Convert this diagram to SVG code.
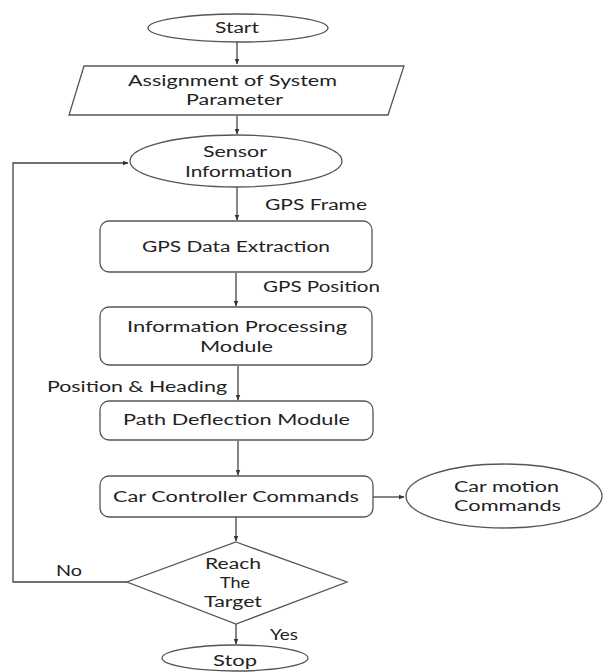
<svg xmlns="http://www.w3.org/2000/svg" width="603" height="672" viewBox="0 0 603 672">
<defs>
<marker id="ah" viewBox="0 0 10 10" refX="9" refY="5" markerWidth="6" markerHeight="6" orient="auto" markerUnits="userSpaceOnUse">
<path d="M0,1 L10,5 L0,9 z" fill="#333"/>
</marker>
</defs>
<style>
.shape{fill:#fff;stroke:#555;stroke-width:1.3}
.c{fill:none;stroke:#444;stroke-width:1.3}
text{font-family:Lato,"Liberation Sans",sans-serif;font-size:15.5px;fill:#222}
.m{text-anchor:middle}
</style>
<rect width="603" height="672" fill="#fff"/>
<g id="connectors">
<line class="c" x1="237" y1="42" x2="237" y2="64" marker-end="url(#ah)"/>
<line class="c" x1="237" y1="116" x2="237" y2="134" marker-end="url(#ah)"/>
<line class="c" x1="237" y1="187" x2="237" y2="220" marker-end="url(#ah)"/>
<line class="c" x1="236" y1="273" x2="236" y2="306" marker-end="url(#ah)"/>
<line class="c" x1="238" y1="366" x2="238" y2="400" marker-end="url(#ah)"/>
<line class="c" x1="238" y1="441" x2="238" y2="475" marker-end="url(#ah)"/>
<line class="c" x1="373" y1="497" x2="404" y2="497" marker-end="url(#ah)"/>
<line class="c" x1="236" y1="517" x2="236" y2="541" marker-end="url(#ah)"/>
<line class="c" x1="236" y1="624" x2="236" y2="644" marker-end="url(#ah)"/>
<polyline class="c" points="127,582 13,582 13,163 128,163" marker-end="url(#ah)"/>
<text x="265" y="210" textLength="102" lengthAdjust="spacingAndGlyphs">GPS Frame</text>
<text x="263" y="292" textLength="117" lengthAdjust="spacingAndGlyphs">GPS Position</text>
<text x="47" y="392" textLength="180" lengthAdjust="spacingAndGlyphs">Position &amp; Heading</text>
<text x="56" y="576" textLength="26" lengthAdjust="spacingAndGlyphs">No</text>
<text x="270" y="640" textLength="28" lengthAdjust="spacingAndGlyphs">Yes</text>
</g>
<g id="start">
<ellipse class="shape" cx="238" cy="28" rx="90" ry="14"/>
<text class="m" x="237" y="33" textLength="44" lengthAdjust="spacingAndGlyphs">Start</text>
</g>
<g id="assignment">
<polygon class="shape" points="84,66 404,66 388,115 69,115"/>
<text class="m" x="232.5" y="86" textLength="209" lengthAdjust="spacingAndGlyphs">Assignment of System</text>
<text class="m" x="234.5" y="105" textLength="97" lengthAdjust="spacingAndGlyphs">Parameter</text>
</g>
<g id="sensor">
<ellipse class="shape" cx="236" cy="161" rx="106" ry="26"/>
<text class="m" x="235" y="157" textLength="64" lengthAdjust="spacingAndGlyphs">Sensor</text>
<text class="m" x="238.5" y="177" textLength="107" lengthAdjust="spacingAndGlyphs">Information</text>
</g>
<g id="gps">
<rect class="shape" x="100" y="221" width="272" height="51" rx="9"/>
<text class="m" x="236" y="252" textLength="188" lengthAdjust="spacingAndGlyphs">GPS Data Extraction</text>
</g>
<g id="info">
<rect class="shape" x="100" y="307" width="272" height="58" rx="9"/>
<text class="m" x="237" y="332" textLength="220" lengthAdjust="spacingAndGlyphs">Information Processing</text>
<text class="m" x="236.5" y="352" textLength="73" lengthAdjust="spacingAndGlyphs">Module</text>
</g>
<g id="path">
<rect class="shape" x="100" y="401" width="273" height="39" rx="9"/>
<text class="m" x="236.5" y="425" textLength="227" lengthAdjust="spacingAndGlyphs">Path Deflection Module</text>
</g>
<g id="car">
<rect class="shape" x="100" y="476" width="273" height="41" rx="9"/>
<text class="m" x="236" y="502" textLength="246" lengthAdjust="spacingAndGlyphs">Car Controller Commands</text>
</g>
<g id="motion">
<ellipse class="shape" cx="504" cy="496" rx="98" ry="32"/>
<text class="m" x="506.5" y="492" textLength="105" lengthAdjust="spacingAndGlyphs">Car motion</text>
<text class="m" x="507.5" y="511" textLength="107" lengthAdjust="spacingAndGlyphs">Commands</text>
</g>
<g id="decision">
<polygon class="shape" points="236,542 347,582 236,624 127,582"/>
<text class="m" x="233" y="569" textLength="56" lengthAdjust="spacingAndGlyphs">Reach</text>
<text class="m" x="235" y="588" textLength="30" lengthAdjust="spacingAndGlyphs">The</text>
<text class="m" x="233" y="607" textLength="58" lengthAdjust="spacingAndGlyphs">Target</text>
</g>
<g id="stop">
<ellipse class="shape" cx="235" cy="658" rx="73" ry="13"/>
<text class="m" x="235" y="666" textLength="44" lengthAdjust="spacingAndGlyphs">Stop</text>
</g>
</svg>
